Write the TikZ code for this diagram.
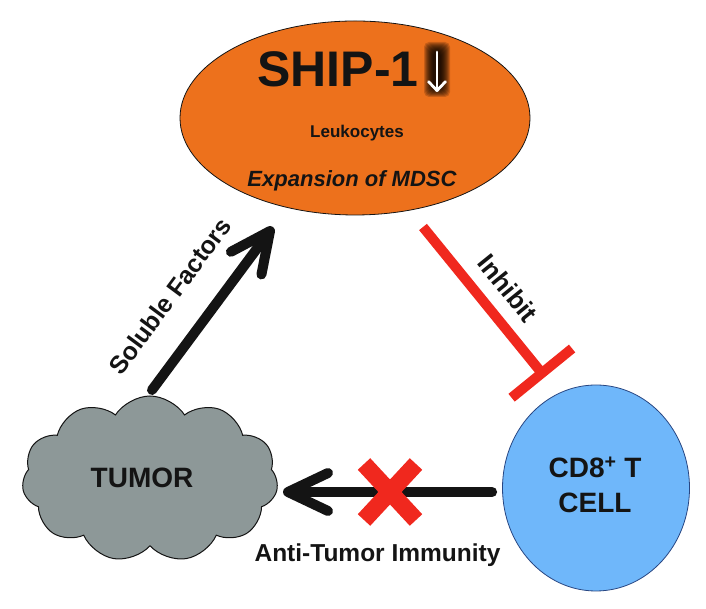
\documentclass[tikz,border=0pt]{standalone}
\usepackage{fontspec}
\setmainfont{Liberation Sans}
\usetikzlibrary{shapes.geometric,shapes.symbols,arrows.meta,calc}
\definecolor{shiporange}{RGB}{237,113,28}
\definecolor{tumorgray}{RGB}{141,152,152}
\definecolor{cellblue}{RGB}{111,183,250}
\definecolor{cellborder}{RGB}{40,70,130}
\definecolor{inhred}{RGB}{240,40,30}
\definecolor{ink}{RGB}{20,20,20}
\begin{document}
\begin{tikzpicture}[x=1pt,y=1pt,
  lbl/.style={font=\bfseries\fontsize{#1}{#1}\selectfont, text=ink, inner sep=0pt},
  bigarrow/.style={draw=ink, line width=10pt, line cap=round,
     -{Straight Barb[length=40pt,width=38pt,round]}},
  inharrow/.style={draw=inhred, line width=10pt, -{Bar[width=78pt]}},
  xstroke/.style={draw=inhred, line width=17pt}
]
\useasboundingbox (0,0) rectangle (706,609);

% shapes
\node[ellipse, draw=ink, line width=0.8pt, fill=shiporange,
      minimum width=350pt, minimum height=194pt, inner sep=0pt] (ship) at (355,491) {};
\node[cloud, cloud puffs=11, cloud puff arc=115, aspect=1.55, draw=ink, line width=1pt,
      fill=tumorgray, minimum width=256pt, minimum height=166pt, inner sep=0pt] (tumor) at (150,130) {};
\node[ellipse, draw=cellborder, line width=0.8pt, fill=cellblue,
      minimum width=187pt, minimum height=206pt, inner sep=0pt] (cd8) at (596,121) {};

% ship texts
\node[lbl=50, anchor=base] (shiptitle) at (338,522) {SHIP-1};
\foreach \i in {0,...,9}{
  \fill[black, opacity=0.17, rounded corners=5pt]
    (437-13+\i,512+\i) rectangle (437+13-\i,567-\i);
}
\coordinate (dntop) at (437,557);
\coordinate (dnbot) at (437,517);
\draw[white, line width=2.8pt, line cap=round, -{Straight Barb[length=9pt,width=17pt,round]}] (dntop) -- (dnbot);
\node[lbl=17, anchor=base] (leuk) at (357,471) {Leukocytes};
\node[lbl=22, anchor=base, font=\bfseries\itshape\fontsize{22}{22}\selectfont] (mdsc) at (352,422) {Expansion of MDSC};

% other texts
\node[lbl=28] (tumortext) at (142,131.5) {TUMOR};
\node[lbl=28, anchor=base] (cd8a) at (595,131) {CD8\textsuperscript{+} T};
\node[lbl=28, anchor=base] (cd8b) at (595,96) {CELL};

% connectors
\coordinate (solA) at ($(tumor.center)+(2,89)$);
\coordinate (solB) at ($(ship.center)+(-82,-109)$);
\draw[bigarrow] (solA) -- (solB);
\node[lbl=25, rotate=53.4] (soltext) at (170,313) {Soluble Factors};

\coordinate (inhA) at ($(ship.center)+(68,-109)$);
\coordinate (inhB) at ($(cd8.center)+(-51,111)$);
\draw[inharrow] (inhA) -- (inhB);
\node[lbl=26, rotate=-51] (inhtext) at (508,321) {Inhibit};

\coordinate (antiA) at ($(cd8.west)+(-10,-4)$);
\coordinate (antiB) at (283,117);
\draw[bigarrow] (antiA) -- (antiB);
\coordinate (xmark) at (390,117);
\draw[xstroke] ($(xmark)+(-26,-28)$) -- ($(xmark)+(26,28)$);
\draw[xstroke] ($(xmark)+(-26,28)$) -- ($(xmark)+(26,-28)$);
\node[lbl=24.5, anchor=base] (antitext) at (377.5,47) {Anti-Tumor Immunity};
\end{tikzpicture}
\end{document}
